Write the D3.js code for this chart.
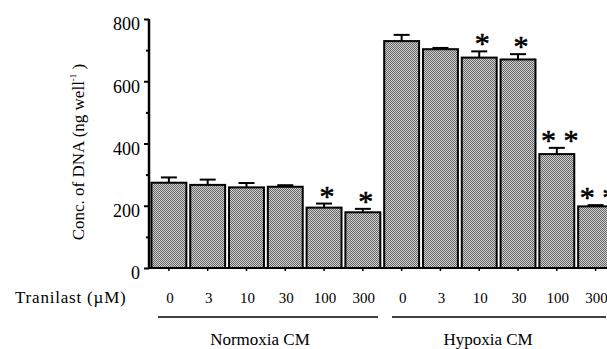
<!DOCTYPE html>
<html>
<head>
<meta charset="utf-8">
<script src="https://cdn.jsdelivr.net/npm/d3@7/dist/d3.min.js"></script>
<style>
  html, body { margin: 0; padding: 0; background: #fff; }
  svg { display: block; }
  text { font-family: "Liberation Serif", "Times New Roman", serif; fill: #000; }
</style>
</head>
<body>
<svg id="chart" width="607" height="349"></svg>
<script>
// ---- data ----
const doses = ["0", "3", "10", "30", "100", "300", "0", "3", "10", "30", "100", "300"];
const groups = ["Normoxia CM", "Hypoxia CM"];
const means = [274, 267, 259, 261, 194, 179, 729, 703, 676, 670, 366, 198];
const errors = [17, 17, 14, 5, 13, 11, 20, 4, 20, 17, 20, 4];
const stars = ["", "", "", "", "*", "*", "", "", "*", "*", "* *", "* *"];
const yTicks = [0, 200, 400, 600, 800];
const yMinorTicks = [100, 300, 500, 700];

const svg = d3.select("#chart");
const W = 607, H = 349;
const serif = '"Liberation Serif", "Times New Roman", serif';

const defs = svg.append("defs");
const pat = defs.append("pattern")
  .attr("id", "dither").attr("patternUnits", "userSpaceOnUse")
  .attr("width", 2).attr("height", 2);
pat.append("rect").attr("width", 2).attr("height", 2).attr("fill", "#d0d0d0");
pat.append("rect").attr("x", 0).attr("y", 0).attr("width", 1).attr("height", 1).attr("fill", "#666");
pat.append("rect").attr("x", 1).attr("y", 1).attr("width", 1).attr("height", 1).attr("fill", "#666");

const idx = d3.range(doses.length);
const x = d3.scaleBand().domain(idx).range([149.5, 615]).paddingInner(0.1).paddingOuter(0.05);
const y = d3.scaleLinear().domain([0, 800]).range([268, 19]);

// bars
svg.append("g").selectAll("rect").data(idx).join("rect")
  .attr("x", i => x(i))
  .attr("y", i => y(means[i]))
  .attr("width", x.bandwidth())
  .attr("height", i => y(0) - y(means[i]))
  .attr("fill", "url(#dither)")
  .attr("stroke", "#000").attr("stroke-width", 2);

// error bars
const eg = svg.append("g").attr("stroke", "#000").attr("stroke-width", 2);
idx.forEach(i => {
  const cx = x(i) + x.bandwidth() / 2;
  eg.append("line").attr("x1", cx).attr("x2", cx)
    .attr("y1", y(means[i])).attr("y2", y(means[i] + errors[i]));
  eg.append("line").attr("x1", cx - 8).attr("x2", cx + 8)
    .attr("y1", y(means[i] + errors[i])).attr("y2", y(means[i] + errors[i]));
});

// stars
svg.append("g").selectAll("text").data(idx.filter(i => stars[i])).join("text")
  .attr("x", i => x(i) + x.bandwidth() / 2 + 3)
  .attr("y", i => y(means[i] + errors[i]) + 2)
  .attr("text-anchor", "middle")
  .attr("font-size", 30)
  .attr("stroke", "#000").attr("stroke-width", 0.6)
  .text(i => stars[i]);

// y axis
const yAxis = d3.axisLeft(y).tickValues(yTicks).tickSize(5).tickPadding(4).tickFormat(d3.format("d"));
const ya = svg.append("g").attr("transform", "translate(149,0)").call(yAxis)
  .attr("font-family", serif).attr("font-size", 18);
ya.select(".domain").attr("stroke-width", 2.5).attr("d", `M0,${y(800)}V${y(0)}`);
ya.selectAll(".tick line").attr("stroke-width", 2);
ya.selectAll(".tick text").attr("dy", "0.6em");
const yMinor = d3.axisLeft(y).tickValues(yMinorTicks).tickSize(3).tickFormat("");
const ym = svg.append("g").attr("transform", "translate(149,0)").call(yMinor);
ym.select(".domain").remove();
ym.selectAll(".tick line").attr("stroke-width", 2);

// x axis
const xAxis = d3.axisBottom(x).tickSize(3).tickFormat("");
const xa = svg.append("g").attr("transform", `translate(0,${y(0)})`).call(xAxis);
xa.select(".domain").attr("stroke-width", 2).attr("d", `M148,0H${W}`);
xa.selectAll(".tick line").attr("stroke-width", 1.5);

// dose labels
svg.append("g").selectAll("text").data(idx).join("text")
  .attr("x", i => x(i) + x.bandwidth() / 2 + 1)
  .attr("y", 303)
  .attr("text-anchor", "middle")
  .attr("font-size", 15)
  .text(i => doses[i]);

svg.append("text").attr("x", 15).attr("y", 303).attr("font-size", 17)
  .attr("letter-spacing", 0.8)
  .text("Tranilast (\u00B5M)");

// group brackets
const groupSpan = [[158, 378], [392, 606]];
groups.forEach((g, k) => {
  svg.append("line").attr("x1", groupSpan[k][0]).attr("x2", groupSpan[k][1])
    .attr("y1", 317).attr("y2", 317).attr("stroke", "#000").attr("stroke-width", 1.5);
  svg.append("text").attr("x", k === 0 ? 260 : 488).attr("y", 345)
    .attr("text-anchor", "middle").attr("font-size", 17).text(g);
});

// y label
const yl = svg.append("text")
  .attr("transform", "translate(84,152) rotate(-90)")
  .attr("text-anchor", "middle").attr("font-size", 17);
yl.append("tspan").text("Conc. of DNA (ng well");
yl.append("tspan").attr("font-size", 9).attr("dy", -8).text("-1");
yl.append("tspan").attr("dy", 8).text(" )");
</script>
</body>
</html>
